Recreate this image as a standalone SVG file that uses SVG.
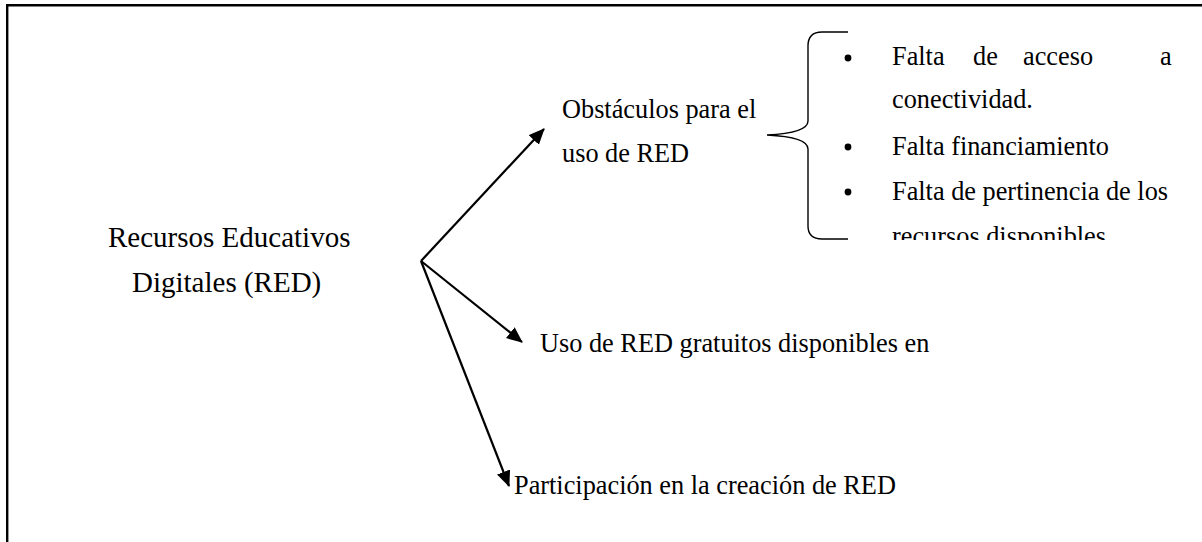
<svg xmlns="http://www.w3.org/2000/svg" width="1202" height="542" viewBox="0 0 1202 542">
<style>
.t{font-family:"Liberation Serif","Times New Roman",serif;font-size:26.3px;fill:#000}
.title{font-family:"Liberation Serif","Times New Roman",serif;font-size:29px;fill:#000}
.arr{stroke:#000;stroke-width:2.2;fill:none;marker-end:url(#ah)}
</style>
<defs>
<marker id="ah" markerUnits="userSpaceOnUse" markerWidth="18" markerHeight="14" refX="15" refY="7" orient="auto">
<path d="M0,0 L16,7 L0,14 Z" fill="#000"/>
</marker>
<clipPath id="clipList"><rect x="760" y="0" width="442" height="240"/></clipPath>
</defs>
<rect width="1202" height="542" fill="#fff"/>
<g id="frame" stroke="#000" stroke-width="2.4" fill="none">
<line x1="6" y1="5.3" x2="1202" y2="5.3"/>
<line x1="7.2" y1="4.1" x2="7.2" y2="542"/>
</g>
<g id="connectors">
<line class="arr" x1="421" y1="261" x2="544" y2="129"/>
<line class="arr" x1="421" y1="261" x2="522" y2="342"/>
<line class="arr" x1="421" y1="261" x2="509" y2="486"/>
</g>
<g id="node-red">
<text class="title" x="108" y="246.5">Recursos Educativos</text>
<text class="title" x="132" y="291.5">Digitales (RED)</text>
</g>
<g id="node-obstaculos">
<text class="t" x="562" y="118">Obstáculos para el</text>
<text class="t" x="562" y="162">uso de RED</text>
</g>
<g id="node-list">
<path d="M848,32 L822,32 Q808,32 808,46 L808,121 Q808,133 767,135 Q808,137 808,149 L808,226 Q808,239 822,239 L848,239" stroke="#000" stroke-width="1.4" fill="none"/>
<circle cx="848" cy="58" r="3.4" fill="#000"/>
<circle cx="848" cy="147" r="3.4" fill="#000"/>
<circle cx="848" cy="192" r="3.4" fill="#000"/>
<g clip-path="url(#clipList)">
<text class="t" y="65"><tspan x="892">Falta</tspan><tspan x="973">de</tspan><tspan x="1023">acceso</tspan><tspan x="1160">a</tspan></text>
<text class="t" x="892" y="108">conectividad.</text>
<text class="t" x="892" y="155">Falta financiamiento</text>
<text class="t" x="892" y="200">Falta de pertinencia de los</text>
<text class="t" x="892" y="245">recursos disponibles</text>
</g>
</g>
<g id="node-uso">
<text class="t" x="540" y="352">Uso de RED gratuitos disponibles en</text>
</g>
<g id="node-participacion">
<text class="t" x="514" y="494">Participación en la creación de RED</text>
</g>
</svg>
